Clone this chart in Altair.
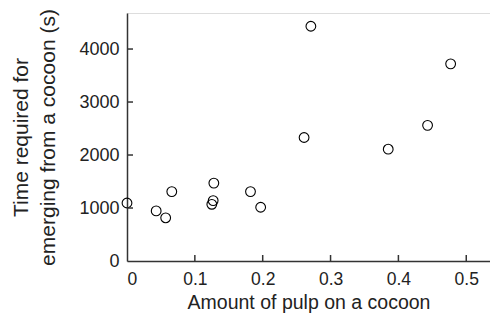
import altair as alt
import pandas as pd

# Data
pulp = [0.0, 0.043, 0.057, 0.066, 0.125, 0.127, 0.128, 0.182, 0.197,
        0.261, 0.271, 0.385, 0.443, 0.477]
time_s = [1095, 945, 815, 1310, 1070, 1140, 1470, 1310, 1015,
          2330, 4430, 2110, 2560, 3720]

x_ticks = [0.1, 0.2, 0.3, 0.4, 0.5]
y_ticks = [1000, 2000, 3000, 4000]
x_label_values = [0, 0.1, 0.2, 0.3, 0.4, 0.5]
y_label_values = [0, 1000, 2000, 3000, 4000]

W, H = 363, 248
FONT = "Liberation Sans"
AXIS_COLOR = "#333333"
TEXT = "#222222"

df = pd.DataFrame({"pulp": pulp, "time": time_s})
dfx = pd.DataFrame({"v": x_ticks})
dfy = pd.DataFrame({"v": y_ticks})

xscale = alt.Scale(domain=[0, 0.535], nice=False, zero=False)
yscale = alt.Scale(domain=[0, 4680], nice=False, zero=False)

points = alt.Chart(df).mark_point(
    shape="circle", filled=False, color="black", size=95, strokeWidth=1.1, opacity=1
).encode(
    x=alt.X("pulp:Q", scale=xscale,
            axis=alt.Axis(values=x_label_values, format="~g", ticks=False, grid=False,
                          domainColor=AXIS_COLOR, domainWidth=1.5,
                          labelPadding=9, labelFontSize=17.5, labelFont=FONT, labelColor=TEXT,
                          title="Amount of pulp on a cocoon", titleFont=FONT, titleFontSize=19.5,
                          titleFontWeight="normal", titleColor=TEXT,
                          titleY=47, titleBaseline="alphabetic")),
    y=alt.Y("time:Q", scale=yscale,
            axis=alt.Axis(values=y_label_values, format="d", ticks=False, grid=False,
                          domainColor=AXIS_COLOR, domainWidth=1.5,
                          labelPadding=8, labelFontSize=18, labelFont=FONT, labelColor=TEXT,
                          title=["Time required for", "emerging from a cocoon (s)"],
                          titleFont=FONT, titleFontSize=21, titleFontWeight="normal",
                          titleColor=TEXT, titlePadding=20, titleLineHeight=27)),
)

xt = alt.Chart(dfx).mark_rule(color=AXIS_COLOR, strokeWidth=1.5).encode(
    x=alt.X("v:Q", scale=xscale),
    y=alt.value(H), y2=alt.value(H - 6),
)
yt = alt.Chart(dfy).mark_rule(color=AXIS_COLOR, strokeWidth=1.5).encode(
    y=alt.Y("v:Q", scale=yscale),
    x=alt.value(0), x2=alt.value(6),
)

chart = alt.layer(points, xt, yt).properties(
    width=W, height=H,
    autosize=alt.AutoSizeParams(type="none"),
    padding={"left": 119, "top": 5, "right": 0, "bottom": 52},
).configure_view(stroke=None).configure(background="white")

chart.save("out.html", embed_options={"renderer": "svg", "actions": False})
